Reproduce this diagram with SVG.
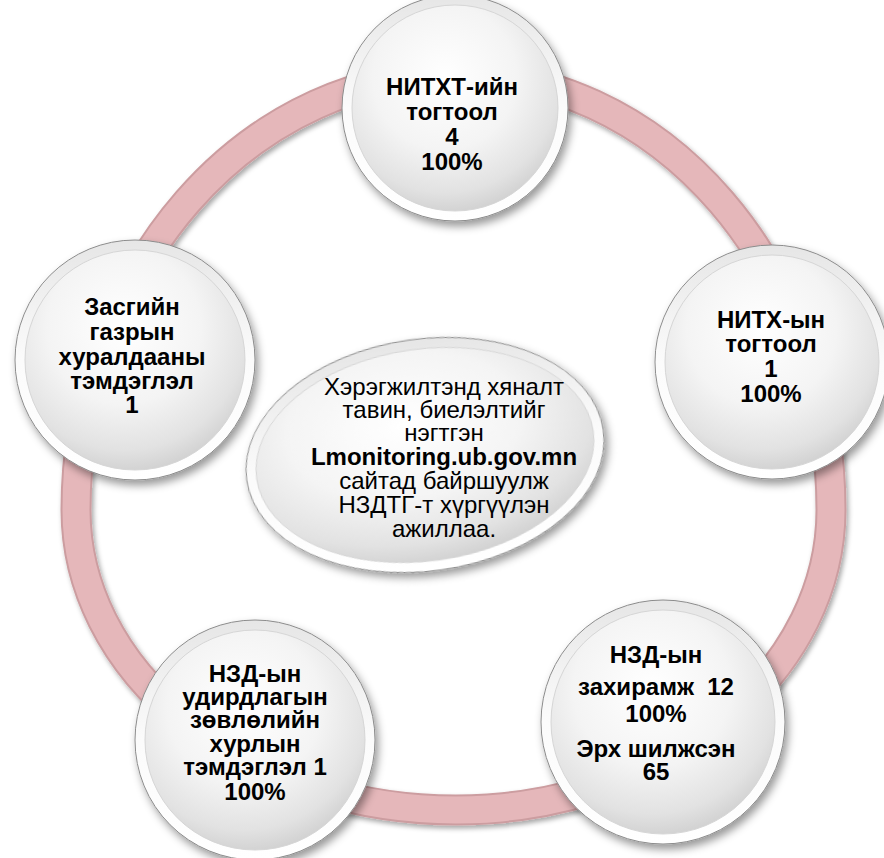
<svg xmlns="http://www.w3.org/2000/svg" width="884" height="858" viewBox="0 0 884 858">
<defs>
  <filter id="sh" x="-20%" y="-20%" width="140%" height="140%">
    <feDropShadow dx="3" dy="5" stdDeviation="4" flood-color="#000" flood-opacity="0.4"/>
  </filter>
  <filter id="rsh" x="-10%" y="-10%" width="120%" height="120%">
    <feDropShadow dx="2" dy="3" stdDeviation="2.5" flood-color="#000" flood-opacity="0.35"/>
  </filter>
  <linearGradient id="rim" x1="0" y1="0" x2="0" y2="1">
    <stop offset="0" stop-color="#e6e6e6"/>
    <stop offset="0.5" stop-color="#fbfbfb"/>
    <stop offset="1" stop-color="#ffffff"/>
  </linearGradient>
  <radialGradient id="face" cx="0.45" cy="0.35" r="0.7">
    <stop offset="0" stop-color="#ffffff"/>
    <stop offset="0.5" stop-color="#f4f4f4"/>
    <stop offset="0.8" stop-color="#e2e2e2"/>
    <stop offset="1" stop-color="#cbcbcb"/>
  </radialGradient>
  <style>
    .ring-o{fill:none;stroke:#cc9da0;stroke-width:31}
    .ring-i{fill:none;stroke:#e5b7ba;stroke-width:27}
    .rim{fill:url(#rim);stroke:#8c8c8c;stroke-width:1}
    .face{fill:url(#face);stroke:#d6d6d6;stroke-width:1}
    text{font-family:"Liberation Sans",Arial,sans-serif;fill:#000;text-anchor:middle}
    .b{font-weight:bold;font-size:24px}
    .n{font-size:24px}
  </style>
</defs>
<rect width="884" height="858" fill="#ffffff"/>
<g id="connectors">
  <g filter="url(#rsh)">
    <path class="ring-o" d="M 456 74 A 375 436 0 0 1 831 510 A 375 300 0 0 1 456 810 A 380 300 0 0 1 76 510 A 380 436 0 0 1 456 74 Z"/>
    <path class="ring-i" d="M 456 74 A 375 436 0 0 1 831 510 A 375 300 0 0 1 456 810 A 380 300 0 0 1 76 510 A 380 436 0 0 1 456 74 Z"/>
  </g>
</g>
<g id="node-top">
  <g filter="url(#sh)">
    <circle class="rim" cx="455" cy="108" r="113"/>
    <circle class="face" cx="455" cy="108" r="103"/>
  </g>
  <text class="b"><tspan x="452" y="95">НИТХТ-ийн</tspan><tspan x="452" y="120">тогтоол</tspan><tspan x="452" y="145">4</tspan><tspan x="452" y="170">100%</tspan></text>
</g>
<g id="node-right">
  <g filter="url(#sh)">
    <circle class="rim" cx="772" cy="362" r="117"/>
    <circle class="face" cx="772" cy="362" r="107"/>
  </g>
  <text class="b"><tspan x="771" y="328">НИТХ-ын</tspan><tspan x="771" y="352">тогтоол</tspan><tspan x="771" y="377">1</tspan><tspan x="771" y="402">100%</tspan></text>
</g>
<g id="node-bottom-right">
  <g filter="url(#sh)">
    <circle class="rim" cx="663" cy="722" r="122"/>
    <circle class="face" cx="663" cy="722" r="112"/>
  </g>
  <text class="b"><tspan x="656" y="663">НЗД-ын</tspan><tspan x="656" y="695">захирамж&#160; 12</tspan><tspan x="656" y="722">100%</tspan><tspan x="656" y="757">Эрх шилжсэн</tspan><tspan x="656" y="780">65</tspan></text>
</g>
<g id="node-bottom-left">
  <g filter="url(#sh)">
    <circle class="rim" cx="255" cy="740" r="120"/>
    <circle class="face" cx="255" cy="740" r="110"/>
  </g>
  <text class="b"><tspan x="255" y="682">НЗД-ын</tspan><tspan x="255" y="705">удирдлагын</tspan><tspan x="255" y="728">зөвлөлийн</tspan><tspan x="255" y="752">хурлын</tspan><tspan x="255" y="775">тэмдэглэл 1</tspan><tspan x="255" y="800">100%</tspan></text>
</g>
<g id="node-left">
  <g filter="url(#sh)">
    <circle class="rim" cx="135" cy="360" r="120"/>
    <circle class="face" cx="135" cy="360" r="110"/>
  </g>
  <text class="b"><tspan x="132" y="315">Засгийн</tspan><tspan x="132" y="340">газрын</tspan><tspan x="132" y="365">хуралдааны</tspan><tspan x="132" y="389">тэмдэглэл</tspan><tspan x="132" y="413">1</tspan></text>
</g>
<g id="node-center">
  <g filter="url(#sh)" transform="translate(425 455) rotate(-8)">
    <ellipse class="rim" cx="0" cy="0" rx="180" ry="116"/>
    <ellipse class="face" cx="0" cy="0" rx="170" ry="106"/>
  </g>
  <text class="n"><tspan x="444" y="395">Хэрэгжилтэнд хяналт</tspan><tspan x="444" y="418">тавин, биелэлтийг</tspan><tspan x="444" y="441">нэгтгэн</tspan><tspan x="444" y="465" font-weight="bold">Lmonitoring.ub.gov.mn</tspan><tspan x="444" y="489">сайтад байршуулж</tspan><tspan x="444" y="513">НЗДТГ-т хүргүүлэн</tspan><tspan x="444" y="537">ажиллаа.</tspan></text>
</g>
</svg>
